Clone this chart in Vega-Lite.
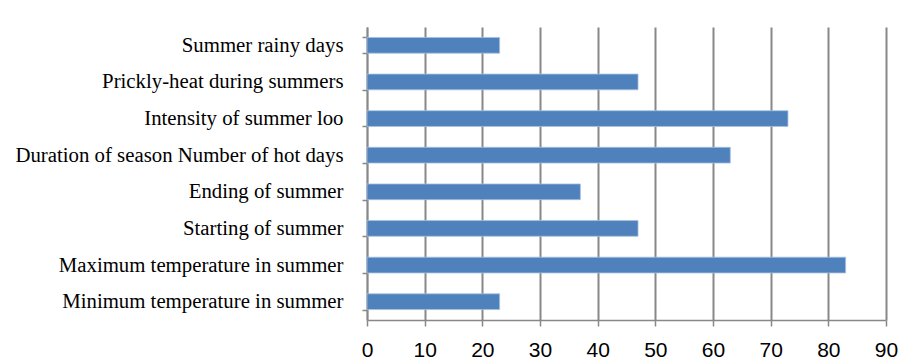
{
  "$schema": "https://vega.github.io/schema/vega-lite/v6.json",
  "autosize": "none",
  "width": 519,
  "height": 293,
  "padding": {"left": 367, "top": 27, "right": 17, "bottom": 41},
  "background": "white",
  "config": {"view": {"stroke": null}},
  "data": {
    "values": [
      {"item": "Summer rainy days", "value": 23},
      {"item": "Prickly-heat during summers", "value": 47},
      {"item": "Intensity of summer loo", "value": 73},
      {"item": "Duration of season Number of hot days", "value": 63},
      {"item": "Ending of summer", "value": 37},
      {"item": "Starting of summer", "value": 47},
      {"item": "Maximum temperature in summer", "value": 83},
      {"item": "Minimum temperature in summer", "value": 23}
    ]
  },
  "mark": {"type": "bar", "color": "#4F81BD", "stroke": "#a7c0e0", "strokeWidth": 0.8},
  "encoding": {
    "y": {
      "field": "item",
      "type": "nominal",
      "sort": null,
      "scale": {"paddingInner": 0.57, "paddingOuter": 0.285},
      "axis": {
        "title": null,
        "grid": false,
        "tickBand": "extent",
        "domainColor": "#888888",
        "domainWidth": 1.5,
        "tickColor": "#888888",
        "tickWidth": 1.5,
        "tickSize": 5,
        "labelPadding": 19,
        "labelFont": "Liberation Serif",
        "labelFontSize": 20.8,
        "labelColor": "#000000",
        "labelLimit": 400
      }
    },
    "x": {
      "field": "value",
      "type": "quantitative",
      "scale": {"domain": [0, 90], "nice": false},
      "axis": {
        "title": null,
        "values": [0, 10, 20, 30, 40, 50, 60, 70, 80, 90],
        "grid": true,
        "gridColor": "#888888",
        "gridWidth": 2,
        "domainColor": "#888888",
        "domainWidth": 1.5,
        "tickColor": "#888888",
        "tickWidth": 1.5,
        "tickSize": 6,
        "labelPadding": 13,
        "labelFont": "Liberation Sans",
        "labelFontSize": 21,
        "labelColor": "#000000",
        "labelFlush": false
      }
    }
  }
}
